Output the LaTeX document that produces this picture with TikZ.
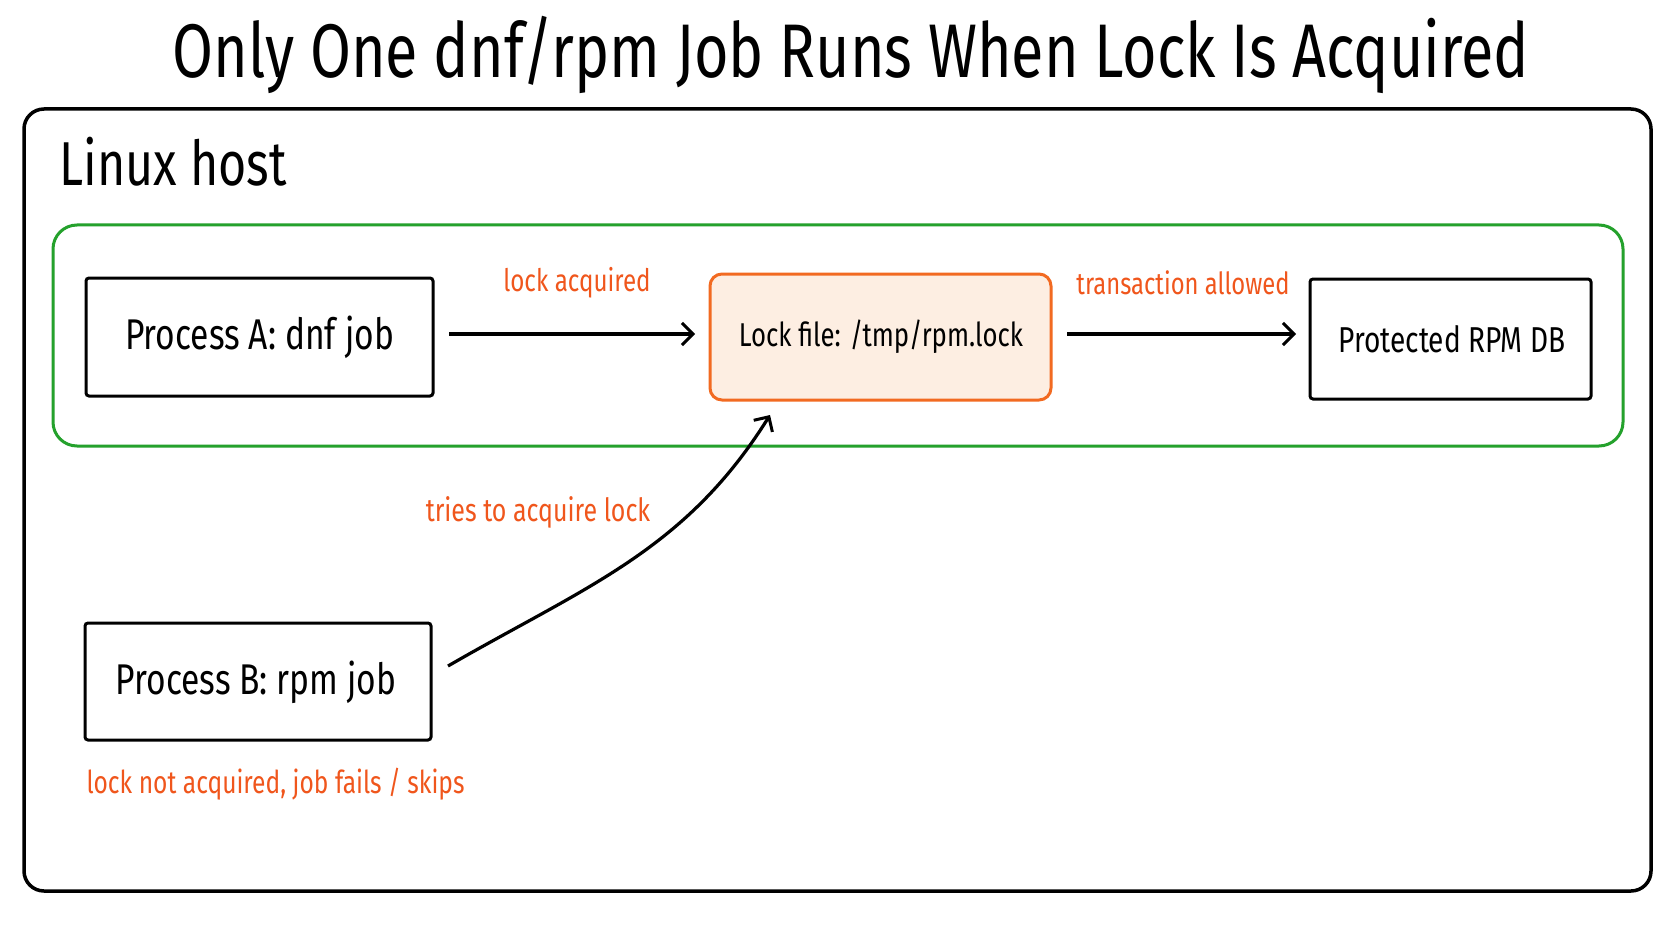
\documentclass[tikz,border=0pt]{standalone}
\usepackage{fontspec}
\setmainfont{Fira Sans}[FakeStretch=0.78]
\usetikzlibrary{arrows.meta}
\definecolor{lockorange}{HTML}{F26A21}
\definecolor{labelorange}{HTML}{F0561C}
\definecolor{lockfill}{HTML}{FDEEE2}
\definecolor{hostgreen}{HTML}{24A12C}
\tikzset{
  procbox/.style={draw=black, line width=3pt, rounded corners=3pt, inner sep=0pt, fill=white},
  boxtext/.style={font=\fontsize{43}{48}\selectfont, text=black},
  lbl/.style={font=\fontsize{31}{36}\selectfont, text=labelorange},
  conn/.style={draw=black, line width=3.2pt, -{Straight Barb[length=11pt,width=22pt,line width=3pt]}},
}
\begin{document}
\begin{tikzpicture}[x=1pt,y=1pt]
\useasboundingbox (0,0) rectangle (1672,-941);
\fill[white] (0,0) rectangle (1672,-941);
% title
\node (title) at (851,-55) {\fontsize{76}{84}\selectfont Only One dnf/rpm Job Runs When Lock Is Acquired};
% outer host
\draw[line width=3.5pt, rounded corners=20pt] (24,-109) rectangle (1651,-891);
\node[anchor=west, font=\fontsize{62}{68}\selectfont] (host) at (56,-162) {Linux host};
% green group
\draw[hostgreen, line width=3pt, rounded corners=24pt] (53,-225) rectangle (1623,-446);
% nodes
\path[procbox] (86,-278) rectangle (433,-396);
\node[boxtext] (pa) at (259.5,-337) {Process A: dnf job};
\coordinate (paE) at (449,-334);
\path[draw=lockorange, fill=lockfill, line width=3pt, rounded corners=12pt] (710,-274) rectangle (1051,-400);
\node[boxtext, font=\fontsize{33}{38}\selectfont] (lock) at (881,-337) {Lock file: /tmp/rpm.lock};
\path[procbox] (1310,-279) rectangle (1591,-399);
\node[boxtext, font=\fontsize{36}{40}\selectfont] (db) at (1452,-339) {Protected RPM DB};
\path[procbox] (85,-623) rectangle (431,-740);
\node[boxtext] (pb) at (256,-682) {Process B: rpm job};
% connectors
\coordinate (lockW) at (695,-334);
\coordinate (lockE) at (1067,-334);
\coordinate (dbW) at (1296,-334);
\coordinate (pbE) at (448,-666);
\coordinate (lockS) at (770,-415);
\draw[conn] (paE) -- (lockW);
\draw[conn] (lockE) -- (dbW);
\draw[conn] (pbE) to[out=30, in=238] (lockS);
% labels
\node[lbl] (l1) at (577,-283) {lock acquired};
\node[lbl, font=\fontsize{30.5}{36}\selectfont] (l2) at (1183,-283) {transaction allowed};
\node[lbl, font=\fontsize{32}{36}\selectfont] (l3) at (538,-512) {tries to acquire lock};
\node[lbl, anchor=west, font=\fontsize{31.5}{36}\selectfont] (l4) at (83,-784) {lock not acquired, job fails / skips};
\end{tikzpicture}
\end{document}
